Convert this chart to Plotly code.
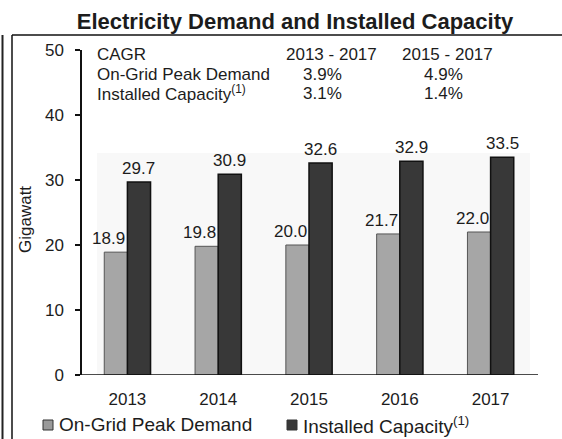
import plotly.graph_objects as go

# Data
years = ["2013", "2014", "2015", "2016", "2017"]
peak_demand = [18.9, 19.8, 20.0, 21.7, 22.0]
installed_capacity = [29.7, 30.9, 32.6, 32.9, 33.5]
series_names = ["On-Grid Peak Demand", "Installed Capacity<sup>(1)</sup>"]
series_colors = ["#a6a6a6", "#383838"]

cagr_header = ["CAGR", "2013 - 2017", "2015 - 2017"]
cagr_rows = [
    ["On-Grid Peak Demand", "3.9%", "4.9%"],
    ["Installed Capacity<sup>(1)</sup>", "3.1%", "1.4%"],
]

FONT = "Arial, Liberation Sans, sans-serif"
INK = "#1c1c1c"

W, H = 562, 439
L, R, T, B = 82, 26, 50, 64
PW, PH = W - L - R, H - T - B
BAR_PX = 23  # approximate bar width in pixels, used to place value labels


def px(x):
    return (x - L) / PW


def py(y):
    return (H - B - y) / PH


fig = go.Figure()
fig.add_trace(go.Bar(
    x=years, y=peak_demand, name=series_names[0],
    marker=dict(color=series_colors[0], line=dict(color="#555555", width=1)),
))
fig.add_trace(go.Bar(
    x=years, y=installed_capacity, name=series_names[1],
    marker=dict(color=series_colors[1], line=dict(color="#111111", width=1.5)),
))

shapes = [
    # faint panel behind the bars
    dict(type="rect", xref="paper", yref="paper", x0=px(97), x1=px(530),
         y0=0, y1=py(153), fillcolor="#f8f8f8", line=dict(width=0), layer="below"),
    # extended baseline
    dict(type="line", xref="paper", yref="y", x0=px(76), x1=px(538), y0=0, y1=0,
         line=dict(color="#111111", width=1.5)),
    # frame around the chart
    dict(type="line", xref="paper", yref="paper", x0=px(12), x1=px(562),
         y0=py(35), y1=py(35), line=dict(color="#111111", width=1.5)),
    dict(type="line", xref="paper", yref="paper", x0=px(12), x1=px(12),
         y0=py(35), y1=py(439), line=dict(color="#111111", width=1.5)),
    dict(type="line", xref="paper", yref="paper", x0=px(2.5), x1=px(2.5),
         y0=py(35), y1=py(439), line=dict(color="#222222", width=2)),
]

annotations = []

# value labels above each bar (x given as category index)
for i, v in enumerate(peak_demand):
    annotations.append(dict(text=f"{v:.1f}", x=i, y=v, xref="x", yref="y",
                            xshift=-BAR_PX / 2 - 7, yshift=2,
                            xanchor="center", yanchor="bottom", showarrow=False,
                            font=dict(family=FONT, size=17, color=INK)))
for i, v in enumerate(installed_capacity):
    annotations.append(dict(text=f"{v:.1f}", x=i, y=v, xref="x", yref="y",
                            xshift=BAR_PX / 2, yshift=2,
                            xanchor="center", yanchor="bottom", showarrow=False,
                            font=dict(family=FONT, size=17, color=INK)))

# CAGR table in the upper part of the plot
row_y = [55, 74, 93]
col_x = [95, 331, 447]
val_x = [322, 443]
table = [dict(text=cagr_header[0], x=px(col_x[0]), y=py(row_y[0]),
              xanchor="left", yanchor="middle")]
for j in (1, 2):
    table.append(dict(text=cagr_header[j], x=px(col_x[j]), y=py(row_y[0]),
                      xanchor="center", yanchor="middle"))
for i, row in enumerate(cagr_rows):
    table.append(dict(text=row[0], x=px(col_x[0]), y=py(row_y[i + 1]),
                      xanchor="left", yanchor="middle"))
    for j in (1, 2):
        table.append(dict(text=row[j], x=px(val_x[j - 1]), y=py(row_y[i + 1]),
                          xanchor="center", yanchor="middle"))
for a in table:
    a.update(xref="paper", yref="paper", showarrow=False,
             font=dict(family=FONT, size=17, color=INK))
annotations += table

annotations.append(dict(text="Gigawatt", xref="paper", yref="paper",
                        x=px(26), y=py(220), textangle=-90, showarrow=False,
                        xanchor="center", yanchor="middle",
                        font=dict(family=FONT, size=17, color=INK)))

# legend row: small swatches followed by the series names
legend_sq = [43, 287]
legend_txt = [57, 301]
legend_y = 425
for k in range(2):
    shapes.append(dict(type="rect", xref="paper", yref="paper",
                       x0=px(legend_sq[k]), x1=px(legend_sq[k] + 10),
                       y0=py(legend_y + 5), y1=py(legend_y - 5),
                       fillcolor=series_colors[k] if k else "#9a9a9a",
                       line=dict(color="#333333", width=1)))
    annotations.append(dict(text=series_names[k], xref="paper", yref="paper",
                            x=px(legend_txt[k]), y=py(legend_y),
                            xanchor="left", yanchor="middle", showarrow=False,
                            font=dict(family=FONT, size=19, color=INK)))

fig.update_layout(
    width=W, height=H,
    margin=dict(l=L, r=R, t=T, b=B, pad=0),
    paper_bgcolor="white", plot_bgcolor="rgba(0,0,0,0)",
    barmode="group", bargap=0.49, bargroupgap=0,
    title=dict(text="<b>Electricity Demand and Installed Capacity</b>",
               xref="container", x=295 / W, xanchor="center",
               y=1 - 21 / H, yanchor="middle",
               font=dict(family=FONT, size=22, color=INK)),
    font=dict(family=FONT, size=17, color=INK),
    showlegend=False,
    xaxis=dict(type="category", range=[-0.5, 4.5], showline=False, ticks="",
               showgrid=False, ticklabelstandoff=12,
               tickfont=dict(family=FONT, size=17, color=INK)),
    yaxis=dict(range=[0, 50], dtick=10, showgrid=False, zeroline=False,
               showline=True, linecolor="#111111", linewidth=1.5,
               ticks="outside", ticklen=5, tickcolor="#111111", tickwidth=1.5,
               ticklabelstandoff=8,
               tickfont=dict(family=FONT, size=17, color=INK)),
    shapes=shapes, annotations=annotations,
)

fig.write_html("out.html")
